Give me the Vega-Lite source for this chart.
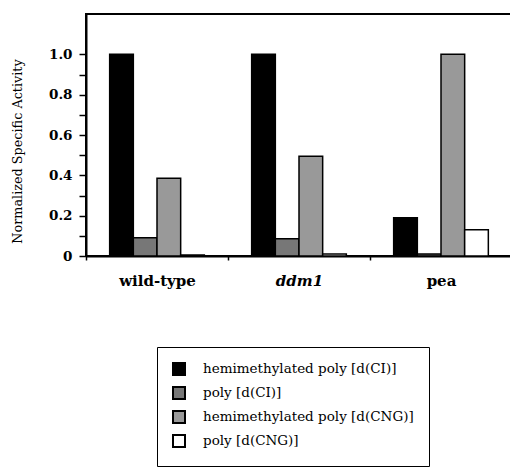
{
  "$schema": "https://vega.github.io/schema/vega-lite/v6.json",
  "width": 426,
  "height": 242,
  "autosize": {"type": "none"},
  "padding": {"left": 86, "top": 14, "right": -2, "bottom": 211},
  "background": "white",
  "config": {
    "view": {"stroke": "black", "strokeWidth": 2},
    "font": "DejaVu Serif"
  },
  "data": {
    "values": [
      {"strain": "wild-type", "substrate": "hemimethylated poly [d(CI)]", "activity": 1.0},
      {"strain": "wild-type", "substrate": "poly [d(CI)]", "activity": 0.09},
      {"strain": "wild-type", "substrate": "hemimethylated poly [d(CNG)]", "activity": 0.385},
      {"strain": "wild-type", "substrate": "poly [d(CNG)]", "activity": 0.005},
      {"strain": "ddm1", "substrate": "hemimethylated poly [d(CI)]", "activity": 1.0},
      {"strain": "ddm1", "substrate": "poly [d(CI)]", "activity": 0.085},
      {"strain": "ddm1", "substrate": "hemimethylated poly [d(CNG)]", "activity": 0.495},
      {"strain": "ddm1", "substrate": "poly [d(CNG)]", "activity": 0.01},
      {"strain": "pea", "substrate": "hemimethylated poly [d(CI)]", "activity": 0.19},
      {"strain": "pea", "substrate": "poly [d(CI)]", "activity": 0.01},
      {"strain": "pea", "substrate": "hemimethylated poly [d(CNG)]", "activity": 1.0},
      {"strain": "pea", "substrate": "poly [d(CNG)]", "activity": 0.13}
    ]
  },
  "mark": {"type": "bar", "stroke": "black", "strokeWidth": 1.5},
  "encoding": {
    "x": {
      "field": "strain",
      "type": "nominal",
      "sort": ["wild-type", "ddm1", "pea"],
      "scale": {"paddingInner": 0, "paddingOuter": 0},
      "axis": {
        "title": null,
        "labelAngle": 0,
        "tickBand": "extent",
        "domainColor": "black",
        "domainWidth": 2,
        "tickColor": "black",
        "tickSize": 4,
        "tickWidth": 1.5,
        "labelFont": "DejaVu Serif",
        "labelFontSize": 15,
        "labelFontWeight": "bold",
        "labelFontStyle": {"condition": {"test": "datum.value === 'ddm1'", "value": "italic"}, "value": "normal"},
        "labelPadding": 13,
        "labelColor": "black"
      }
    },
    "xOffset": {
      "field": "substrate",
      "type": "nominal",
      "sort": ["hemimethylated poly [d(CI)]", "poly [d(CI)]", "hemimethylated poly [d(CNG)]", "poly [d(CNG)]"],
      "scale": {"paddingInner": 0, "paddingOuter": 1}
    },
    "y": {
      "field": "activity",
      "type": "quantitative",
      "scale": {"domain": [0, 1.2], "nice": false},
      "axis": {
        "values": [0, 0.1, 0.2, 0.3, 0.4, 0.5, 0.6, 0.7, 0.8, 0.9, 1.0],
        "labelExpr": "datum.value === 0 ? '0' : (round(datum.value * 10) % 2 === 0 ? format(datum.value, '.1f') : '')",
        "grid": false,
        "domainColor": "black",
        "domainWidth": 2,
        "tickColor": "black",
        "tickSize": 7,
        "tickWidth": 1.5,
        "labelFont": "DejaVu Serif",
        "labelFontSize": 13.5,
        "labelFontWeight": "bold",
        "labelColor": "black",
        "labelPadding": 7,
        "title": "Normalized Specific Activity",
        "titleFont": "DejaVu Serif",
        "titleFontSize": 12.8,
        "titleFontWeight": "normal",
        "titleColor": "black",
        "titleX": -69,
        "titleY": 137,
        "titleAlign": "center",
        "titleBaseline": "middle",
        "titleAngle": -90
      }
    },
    "fill": {
      "field": "substrate",
      "type": "nominal",
      "sort": ["hemimethylated poly [d(CI)]", "poly [d(CI)]", "hemimethylated poly [d(CNG)]", "poly [d(CNG)]"],
      "scale": {
        "domain": ["hemimethylated poly [d(CI)]", "poly [d(CI)]", "hemimethylated poly [d(CNG)]", "poly [d(CNG)]"],
        "range": ["#000000", "#777777", "#999999", "#ffffff"]
      },
      "legend": {
        "title": null,
        "orient": "none",
        "legendX": 71,
        "legendY": 333,
        "padding": 15,
        "strokeColor": "black",
        "fillColor": "white",
        "symbolType": "square",
        "symbolSize": 144,
        "symbolStrokeColor": "black",
        "symbolStrokeWidth": 2,
        "symbolOpacity": 1,
        "labelFont": "DejaVu Serif",
        "labelFontSize": 13.5,
        "labelColor": "black",
        "labelOffset": 17,
        "labelLimit": 400,
        "rowPadding": 4
      }
    }
  }
}
